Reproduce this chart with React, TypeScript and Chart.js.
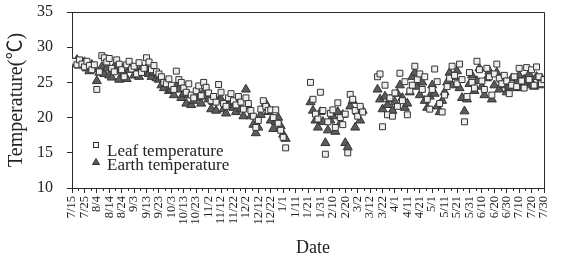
import React, { useEffect, useRef } from 'react';
import { Chart, registerables } from 'chart.js';

Chart.register(...registerables);

// Tick labels (every 10 days from 7/15 to 7/30 of the following year)
const dateLabels = [
  '7/15', '7/25', '8/4', '8/14', '8/24', '9/3', '9/13', '9/23', '10/3', '10/13',
  '10/23', '11/2', '11/12', '11/22', '12/2', '12/12', '12/22', '1/1', '1/11', '1/21',
  '1/31', '2/10', '2/20', '3/2', '3/12', '3/22', '4/1', '4/11', '4/21', '5/1',
  '5/11', '5/21', '5/31', '6/10', '6/20', '6/30', '7/10', '7/20', '7/30',
];
const daysPerLabel = 10;
const daysPerSample = 2; // one reading every two days, starting 7/15

const yTicks = [10, 15, 20, 25, 30, 35];

// Leaf temperature (squares), one reading per 2 days; null = no data
const leafTemps: (number | null)[] = [
  27.8, 28.0, 27.5, 28.2, 27.6, 27.2, 28.0, 27.4, 26.8, 27.5,
  24.0, 26.5, 28.8, 28.5, 27.9, 28.4, 27.0, 26.5, 28.2, 27.6,
  26.8, 25.8, 27.5, 28.0, 26.9, 27.3, 26.2, 27.8, 26.4, 27.0,
  28.5, 27.9, 26.8, 27.4, 26.5, 26.2, 25.8, 25.0, 24.8, 25.5,
  24.6, 24.0, 26.6, 25.4, 25.0, 24.2, 23.6, 24.8, 23.2, 22.8,
  23.8, 24.5, 23.1, 25.0, 24.3, 23.5, 22.4, 23.0, 22.2, 24.7,
  23.6, 22.0, 21.6, 22.8, 23.4, 22.4, 21.8, 23.0, 22.2, 21.2,
  22.8, 22.0, 21.0, 20.2, 18.6, 19.6, 21.2, 22.4, 21.6, 21.0,
  21.1, 20.0, 21.1, 19.2, 18.2, 17.2, 15.7,
  null, null, null, null, null, null, null, null, null,
  25.0, 22.6, 20.5, 19.8, 23.6, 21.0, 14.8, 19.4, 20.6, 21.1,
  18.6, 22.1, 20.0, 19.0, 20.5, 15.0, 23.3, 22.6, 21.0, 20.2,
  21.6, 20.8,
  null, null, null, null, null,
  25.8, 26.2, 18.7, 24.6, 20.4, 22.8, 20.2, 23.5, 21.6, 26.3,
  22.4, 25.1, 20.4, 23.8, 24.6, 27.3, 25.4, 26.2, 24.0, 25.8,
  22.6, 21.2, 24.0, 26.9, 25.1, 22.0, 20.8, 23.2, 24.4, 25.6,
  27.3, 26.0, 24.8, 27.6, 25.4, 19.4, 23.0, 26.4, 25.0, 24.2,
  28.0, 26.8, 25.2, 24.0, 27.0, 25.8, 23.2, 26.2, 27.6, 25.6,
  24.8, 26.0, 25.2, 23.4, 24.6, 25.8, 24.4, 27.0, 25.2, 24.2,
  27.1, 25.4, 26.8, 24.6, 27.2, 25.8, 24.8, 25.4,
];

// Earth temperature (triangles), one reading per 2 days; null = no data
const earthTemps: (number | null)[] = [
  28.0, 27.6, 28.2, 27.4, 27.8, 27.9, 27.0, 26.6, 27.5, 26.9,
  25.2, 26.4, 27.2, 26.2, 27.0, 26.0, 25.7, 27.2, 26.6, 25.4,
  27.0, 26.2, 25.5, 26.8, 27.2, 26.0, 26.8, 25.8, 27.0, 26.4,
  27.0, 26.2, 25.8, 26.4, 25.6, 25.4, 24.6, 24.2, 24.8, 23.8,
  24.0, 23.2, 24.4, 24.0, 22.8, 23.4, 22.0, 23.2, 21.8, 22.4,
  22.8, 23.4, 22.0, 23.6, 23.0, 22.6, 21.2, 22.2, 21.0, 22.4,
  22.6, 21.2, 20.6, 21.8, 22.2, 21.4, 20.8, 22.2, 21.2, 20.2,
  24.0, 21.6, 20.2, 19.0, 17.8, 18.6, 20.4, 21.4, 22.0, 20.8,
  19.6, 18.4, 19.4, 20.0, 18.8, 17.6, 17.0,
  null, null, null, null, null, null, null, null, null,
  22.2, 21.0, 19.6, 18.6, 20.8, 19.4, 16.4, 18.2, 19.6, 20.2,
  18.0, 20.8, 19.2, 20.4, 16.4, 15.8, 21.6, 22.4, 18.6, 20.8,
  19.6, 21.0,
  null, null, null, null, null,
  24.0, 22.6, 21.2, 23.0, 21.8, 22.6, 21.0, 22.2, 23.4, 24.6,
  22.8, 21.4, 22.0, 23.6, 25.8, 26.4, 24.4, 23.2, 25.0, 22.4,
  21.4, 23.0, 24.6, 23.4, 21.6, 20.8, 22.4, 23.6, 25.0, 26.4,
  24.6, 25.8, 26.6, 24.2, 22.8, 20.9, 22.6, 24.8, 26.0, 23.8,
  25.2, 27.0, 24.4, 23.2, 25.6, 26.6, 22.6, 24.6, 26.4, 24.0,
  25.4, 24.6, 23.6, 24.4, 25.6, 24.2, 25.0, 26.0, 24.2, 25.4,
  24.6, 26.2, 25.0, 24.4, 25.8, 24.6, 25.6, 25.0,
];

const seriesNames = ['Leaf temperature', 'Earth temperature'];
const axisTitles = { x: 'Date', y: 'Temperature(\u2103)' };

const SERIF = "'Liberation Serif', 'Times New Roman', 'Noto Sans CJK SC', serif";

function toPoints(values: (number | null)[]) {
  const pts: { x: number; y: number }[] = [];
  values.forEach((v, i) => {
    if (v !== null) pts.push({ x: i * daysPerSample, y: v });
  });
  return pts;
}

const framePlugin = {
  id: 'frameAndLegend',
  afterDraw(chart: any) {
    const { ctx, chartArea } = chart;
    const { left, right, top, bottom } = chartArea;
    const xs = chart.scales.x;
    ctx.save();
    ctx.strokeStyle = '#2a2a2a';
    ctx.lineWidth = 1;
    // top and right frame lines
    ctx.beginPath();
    ctx.moveTo(left, top + 0.5);
    ctx.lineTo(right + 0.5, top + 0.5);
    ctx.lineTo(right + 0.5, bottom);
    ctx.stroke();
    // minor ticks on x axis
    ctx.beginPath();
    for (let d = daysPerLabel / 2; d < (dateLabels.length - 1) * daysPerLabel; d += daysPerLabel) {
      const px = Math.round(xs.getPixelForValue(d)) + 0.5;
      ctx.moveTo(px, bottom);
      ctx.lineTo(px, bottom + 3);
    }
    ctx.stroke();

    // legend inside plot area
    const lx = left + 24;
    const ly1 = top + 133;
    const ly2 = top + 150;
    ctx.fillStyle = '#f2f2f2';
    ctx.strokeStyle = '#333';
    ctx.fillRect(lx - 2, ly1 - 2, 4, 4);
    ctx.strokeRect(lx - 2.5, ly1 - 2.5, 5, 5);
    ctx.fillStyle = '#5a5a5a';
    ctx.beginPath();
    ctx.moveTo(lx, ly2 - 3.5);
    ctx.lineTo(lx + 3.5, ly2 + 2.5);
    ctx.lineTo(lx - 3.5, ly2 + 2.5);
    ctx.closePath();
    ctx.fill();
    ctx.stroke();
    ctx.fillStyle = '#222';
    ctx.font = `17px ${SERIF}`;
    ctx.textBaseline = 'alphabetic';
    ctx.textAlign = 'left';
    ctx.fillText(seriesNames[0], lx + 11, ly1 + 11);
    ctx.fillText(seriesNames[1], lx + 11, ly2 + 8);

    // x axis title
    ctx.font = `18px ${SERIF}`;
    ctx.textAlign = 'center';
    ctx.fillText(axisTitles.x, (left + right) / 2 + 5, chart.height - 7);
    ctx.restore();
  },
};

export default function App() {
  const ref = useRef<HTMLCanvasElement | null>(null);

  useEffect(() => {
    if (!ref.current) return;
    const chart = new Chart(ref.current, {
      type: 'scatter',
      data: {
        datasets: [
          {
            label: seriesNames[0],
            data: toPoints(leafTemps),
            pointStyle: 'rect',
            pointRadius: 4.2,
            backgroundColor: '#eeeeee',
            borderColor: '#333333',
            borderWidth: 1,
          },
          {
            label: seriesNames[1],
            data: toPoints(earthTemps),
            pointStyle: 'triangle',
            pointRadius: 5.2,
            backgroundColor: '#5c5c5c',
            borderColor: '#333333',
            borderWidth: 1,
          },
        ],
      },
      options: {
        responsive: false,
        animation: false,
        devicePixelRatio: 1,
        layout: { padding: { left: 0, top: 12, right: 6, bottom: 0 } },
        plugins: {
          legend: { display: false },
          tooltip: { enabled: false },
        },
        scales: {
          x: {
            type: 'linear',
            min: 0,
            max: (dateLabels.length - 1) * daysPerLabel,
            afterFit: (s: any) => { s.height = 72; },
            afterBuildTicks: (s: any) => {
              s.ticks = dateLabels.map((_, i) => ({ value: i * daysPerLabel }));
            },
            grid: { display: true, drawOnChartArea: false, drawTicks: true, tickLength: 5, color: '#2a2a2a' },
            border: { display: true, color: '#2a2a2a', width: 1 },
            ticks: {
              autoSkip: false,
              maxRotation: 90,
              minRotation: 90,
              padding: 3,
              color: '#222',
              font: { family: SERIF, size: 12.5 },
              callback: (v: any) => dateLabels[Math.round(Number(v) / daysPerLabel)] ?? '',
            },
            title: { display: false },
          },
          y: {
            type: 'linear',
            min: yTicks[0],
            max: yTicks[yTicks.length - 1],
            afterFit: (s: any) => {
              s.width = 72;
              s.paddingTop = 8;
              s.paddingBottom = 8;
            },
            afterBuildTicks: (s: any) => {
              s.ticks = yTicks.map((v) => ({ value: v }));
            },
            grid: { display: true, drawOnChartArea: false, drawTicks: true, tickLength: 5, color: '#2a2a2a' },
            border: { display: true, color: '#2a2a2a', width: 1 },
            ticks: {
              padding: 14,
              color: '#222',
              font: { family: SERIF, size: 16 },
            },
            title: {
              display: true,
              text: axisTitles.y,
              color: '#222',
              font: { family: SERIF, size: 20 },
              padding: 5,
            },
          },
        },
      },
      plugins: [framePlugin],
    } as any);
    return () => chart.destroy();
  }, []);

  return (
    <div style={{ position: 'fixed', left: 0, top: 0, width: 562, height: 260, background: '#fff' }}>
      <canvas ref={ref} width={562} height={260} style={{ width: 562, height: 260, display: 'block' }} />
    </div>
  );
}
